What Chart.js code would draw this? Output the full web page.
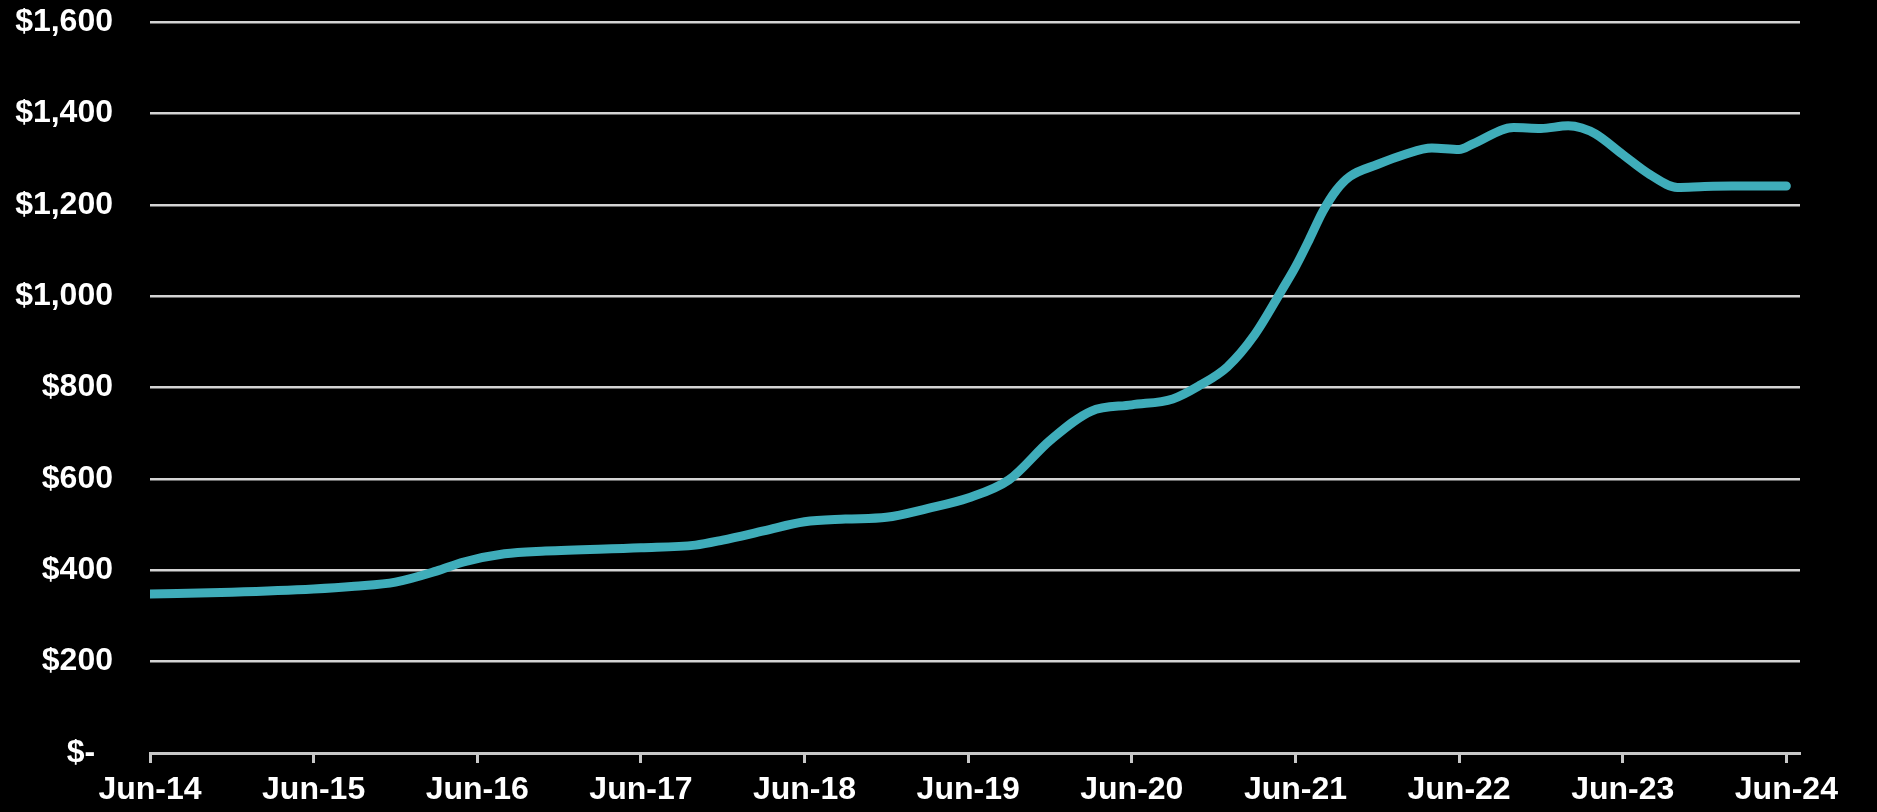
<!DOCTYPE html>
<html>
<head>
<meta charset="utf-8">
<script src="https://cdn.jsdelivr.net/npm/chart.js@4"></script>
<style>
  html, body { margin: 0; padding: 0; background: #000; }
  #wrap { width: 1877px; height: 812px; position: relative; }
</style>
</head>
<body>
<div id="wrap"><canvas id="c"></canvas></div>
<script>
// Months since Jun-14 and the price level at each
const months = [0, 6, 12, 15, 18, 21, 23, 26, 29, 36, 40, 42, 45, 48, 51, 54, 57, 60, 63, 66, 69, 72, 75, 77, 79, 81, 83, 84, 85, 86, 87, 88, 90, 92, 94, 96, 97, 100, 102, 104, 105, 106, 108, 110, 112, 114, 116, 120];
const values = [348, 352, 359, 365, 374, 398, 418, 436, 442, 449, 455, 466, 486, 506, 512, 516, 535, 558, 598, 684, 748, 762, 775, 805, 845, 915, 1013, 1064, 1123, 1185, 1232, 1262, 1288, 1310, 1324, 1321, 1333, 1369, 1367, 1373, 1368, 1355, 1310, 1266, 1238, 1240, 1241, 1241];

// Yearly x-axis ticks
const tickMonths = [0, 12, 24, 36, 48, 60, 72, 84, 96, 108, 120];
const tickLabels = ['Jun-14', 'Jun-15', 'Jun-16', 'Jun-17', 'Jun-18', 'Jun-19', 'Jun-20', 'Jun-21', 'Jun-22', 'Jun-23', 'Jun-24'];

// Y-axis values and their labels
const yTicks = [0, 200, 400, 600, 800, 1000, 1200, 1400, 1600];
const yLabels = ['$-  ', '$200', '$400', '$600', '$800', '$1,000', '$1,200', '$1,400', '$1,600'];

const points = months.map((m, i) => ({ x: m, y: values[i] }));
const font = { family: '"Liberation Sans", Arial, sans-serif', size: 32, weight: 'bold' };

new Chart(document.getElementById('c'), {
  type: 'line',
  data: {
    datasets: [{
      data: points,
      borderColor: '#3fadba',
      borderWidth: 9,
      borderCapStyle: 'round',
      borderJoinStyle: 'round',
      cubicInterpolationMode: 'monotone',
      pointRadius: 0,
      fill: false
    }]
  },
  options: {
    responsive: true,
    maintainAspectRatio: false,
    animation: false,
    layout: { padding: { top: 22, right: 77, left: 0, bottom: 0 } },
    plugins: { legend: { display: false }, tooltip: { enabled: false } },
    scales: {
      x: {
        type: 'linear',
        min: 0,
        max: 121,
        afterBuildTicks: s => { s.ticks = tickMonths.map(v => ({ value: v })); },
        afterFit: s => { s.height = 59; s.paddingLeft = 0; s.paddingRight = 0; },
        ticks: {
          color: '#ffffff',
          font: font,
          padding: 8,
          maxRotation: 0,
          autoSkip: false,
          callback: v => tickLabels[tickMonths.indexOf(v)]
        },
        grid: {
          display: true,
          drawOnChartArea: false,
          drawTicks: true,
          tickLength: 10,
          tickWidth: 3,
          tickColor: '#c8c8c8'
        },
        border: { display: true, color: '#c8c8c8', width: 3 }
      },
      y: {
        min: 0,
        max: 1600,
        afterBuildTicks: s => { s.ticks = yTicks.map(v => ({ value: v })); },
        afterFit: s => { s.width = 150; s.paddingTop = 0; s.paddingBottom = 0; },
        ticks: {
          color: '#ffffff',
          font: font,
          padding: 37,
          callback: v => yLabels[yTicks.indexOf(v)]
        },
        grid: {
          color: '#d4d4d4',
          lineWidth: 2.5,
          drawTicks: false
        },
        border: { display: false }
      }
    }
  }
});
</script>
</body>
</html>
